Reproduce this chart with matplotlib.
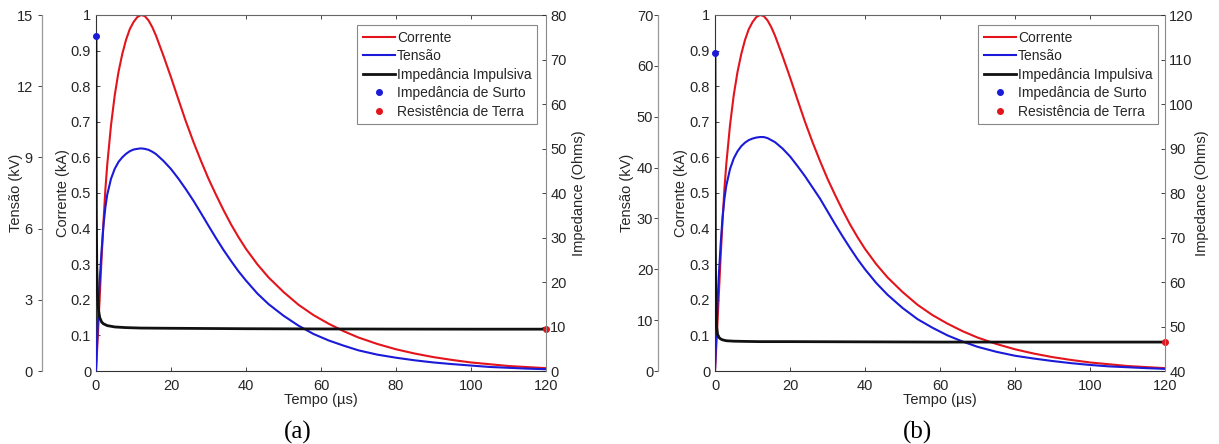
import matplotlib
matplotlib.use("Agg")
import matplotlib.pyplot as plt
from matplotlib.lines import Line2D

plt.rcParams['font.family'] = ['Liberation Sans', 'DejaVu Sans']

# ---------------- data ----------------
t = [0, 0.25, 0.5, 0.75, 1, 1.5, 2, 2.5, 3, 4, 5, 6, 7, 8, 9, 10, 11, 12, 13, 14,
     15, 16, 18, 20, 22, 24, 26, 28, 30, 32, 34, 36, 38, 40, 43, 46, 50, 54, 58,
     62, 66, 70, 75, 80, 85, 90, 95, 100, 105, 110, 115, 120]

# current (kA) - same impulse in both cases
cur_a = [0, 0.05, 0.10, 0.155, 0.21, 0.32, 0.42, 0.51, 0.58, 0.69, 0.775, 0.84,
         0.89, 0.93, 0.96, 0.98, 0.994, 1.0, 0.997, 0.985, 0.966, 0.942, 0.885,
         0.825, 0.762, 0.70, 0.643, 0.59, 0.54, 0.495, 0.452, 0.412, 0.376, 0.343,
         0.30, 0.263, 0.222, 0.186, 0.157, 0.133, 0.112, 0.094, 0.076, 0.061,
         0.049, 0.039, 0.031, 0.024, 0.019, 0.014, 0.011, 0.008]
cur_b = list(cur_a)

# voltage (kV)
volt_a = [0, 1.05, 2.1, 3.0, 3.83, 5.1, 6.15, 6.9, 7.43, 8.1, 8.52, 8.81, 9.0,
          9.15, 9.26, 9.33, 9.36, 9.38, 9.36, 9.32, 9.24, 9.14, 8.85, 8.51, 8.1,
          7.65, 7.17, 6.65, 6.12, 5.6, 5.1, 4.64, 4.2, 3.81, 3.27, 2.82, 2.33,
          1.91, 1.56, 1.29, 1.07, 0.87, 0.69, 0.56, 0.45, 0.36, 0.29, 0.23, 0.17,
          0.135, 0.1, 0.075]
volt_b = [0, 5.25, 10.15, 14.7, 18.55, 24.85, 30.1, 33.8, 36.4, 39.7, 41.8, 43.2,
          44.2, 44.9, 45.4, 45.7, 45.9, 46.0, 46.0, 45.8, 45.4, 45.0, 43.75, 42.2,
          40.3, 38.3, 36.1, 33.9, 31.4, 28.9, 26.5, 24.2, 22.0, 20.0, 17.3, 15.0,
          12.4, 10.2, 8.5, 7.0, 5.8, 4.76, 3.78, 3.0, 2.45, 1.96, 1.54, 1.19, 0.91,
          0.74, 0.56, 0.42]

# impulsive impedance (Ohms)
tz = [0, 0.05, 0.1, 0.2, 0.4, 0.7, 1, 1.5, 2, 3, 5, 8, 12, 20, 40, 60, 80, 100, 120]
z_a = [75.2, 50, 35, 24, 17, 13.5, 12, 11, 10.6, 10.2, 9.9, 9.75, 9.65, 9.6, 9.5,
       9.45, 9.42, 9.4, 9.4]
z_b = [111.5, 85, 68, 56, 50, 48.2, 47.6, 47.2, 47.0, 46.8, 46.7, 46.65, 46.6,
       46.6, 46.55, 46.5, 46.5, 46.5, 46.5]

surge_a = (0, 75.2)
ground_a = (120, 9.4)
surge_b = (0, 111.5)
ground_b = (120, 46.5)

v_lim_a, v_ticks_a = (0, 15), [0, 3, 6, 9, 12, 15]
v_lim_b, v_ticks_b = (0, 70), [0, 10, 20, 30, 40, 50, 60, 70]
z_lim_a, z_ticks_a = (0, 80), [0, 10, 20, 30, 40, 50, 60, 70, 80]
z_lim_b, z_ticks_b = (40, 120), [40, 50, 60, 70, 80, 90, 100, 110, 120]
c_ticks = [0, 0.1, 0.2, 0.3, 0.4, 0.5, 0.6, 0.7, 0.8, 0.9, 1]
c_ticklabels = ['0', '0.1', '0.2', '0.3', '0.4', '0.5', '0.6', '0.7', '0.8', '0.9', '1']
x_ticks = [0, 20, 40, 60, 80, 100, 120]

labels = ['Corrente', 'Tensão', 'Impedância Impulsiva', 'Impedância de Surto',
          'Resistência de Terra']

# ---------------- figure ----------------
W, H = 1219, 444
fig = plt.figure(figsize=(W / 100, H / 100), dpi=100)

FS = 10.5
TXT = '#262626'
RED = '#e3141c'
BLUE = '#1a1ad8'


def panel(left_px, outer_px, cur, volt, z, surge, ground, vlim, vticks, zlim,
          zticks, leg_right_px, tag, tag_x, lab_v, lab_c, lab_z, vpad):
    top_px, bot_px, width_px = 15, 371, 450
    ax = fig.add_axes([left_px / W, (H - bot_px) / H, width_px / W,
                       (bot_px - top_px) / H])
    ax.set_xlim(0, 120)
    ax.set_ylim(0, 1)
    ax.set_xticks(x_ticks)
    ax.set_yticks(c_ticks)
    ax.set_yticklabels(c_ticklabels)
    ax.tick_params(direction='in', length=3, width=0.6, labelsize=FS,
                   colors=TXT, top=True)
    ax.tick_params(axis='y', right=False, pad=3.5)
    ax.tick_params(axis='x', pad=6)
    for s in ['left', 'bottom']:
        ax.spines[s].set_color('#333333')
    ax.spines['top'].set_color('#666666')
    ax.spines['right'].set_visible(False)
    ax.set_xlabel('Tempo (µs)', fontsize=FS, color=TXT, labelpad=0)
    ax.set_ylabel('Corrente (kA)', fontsize=FS, color=TXT)
    ax.yaxis.set_label_coords((lab_c - left_px) / width_px, 0.5)
    ax.plot(t, cur, color=RED, lw=1.5)

    # voltage axis (outer left)
    axv = ax.twinx()
    axv.set_ylim(*vlim)
    axv.set_yticks(vticks)
    axv.yaxis.set_ticks_position('left')
    axv.yaxis.set_label_position('left')
    axv.spines['left'].set_position(('axes', (outer_px - left_px) / width_px))
    axv.spines['left'].set_color('#999999')
    axv.spines['left'].set_linewidth(0.9)
    for s in ['right', 'top', 'bottom']:
        axv.spines[s].set_visible(False)
    axv.tick_params(axis='y', direction='out', length=3, width=0.6,
                    labelsize=FS, colors=TXT, pad=vpad)
    axv.set_ylabel('Tensão (kV)', fontsize=FS, color=TXT)
    axv.yaxis.set_label_coords((lab_v - left_px) / width_px, 0.5)
    axv.plot(t, volt, color=BLUE, lw=1.5)

    # impedance axis (right)
    axz = ax.twinx()
    axz.set_ylim(*zlim)
    axz.set_yticks(zticks)
    for s in ['left', 'top', 'bottom']:
        axz.spines[s].set_visible(False)
    axz.spines['right'].set_color('#888888')
    axz.tick_params(axis='y', direction='in', length=3, width=0.6,
                    labelsize=FS, colors=TXT, pad=3)
    axz.set_ylabel('Impedance (Ohms)', fontsize=FS, color=TXT)
    axz.yaxis.set_label_coords((lab_z - left_px) / width_px, 0.5)
    axz.plot(tz, z, color='#111111', lw=2.0, solid_joinstyle='round')
    axz.plot([surge[0]], [surge[1]], 'o', color=BLUE, ms=4, clip_on=False)
    axz.plot([ground[0]], [ground[1]], 'o', color=RED, ms=4, clip_on=False)

    handles = [Line2D([], [], color=RED, lw=1.5),
               Line2D([], [], color=BLUE, lw=1.5),
               Line2D([], [], color='#111111', lw=2.0),
               Line2D([], [], color=BLUE, marker='o', ms=4, ls='none'),
               Line2D([], [], color=RED, marker='o', ms=4, ls='none')]
    leg = axz.legend(handles, labels, loc='upper right',
                     bbox_to_anchor=(leg_right_px / W, 1 - 25 / H),
                     bbox_transform=fig.transFigure, fontsize=10,
                     frameon=True, fancybox=False, borderaxespad=0,
                     handlelength=2.3, handletextpad=0.15, labelspacing=0.33,
                     borderpad=0.4, framealpha=1)
    leg.get_frame().set_edgecolor('#888888')
    leg.get_frame().set_linewidth(0.8)
    for txt in leg.get_texts():
        txt.set_color(TXT)

    fig.text(tag_x / W, 1 - 432 / H, tag, ha='center', va='center',
             fontsize=18, family='Liberation Serif', color='black')


panel(96, 42, cur_a, volt_a, z_a, surge_a, ground_a, v_lim_a, v_ticks_a,
      z_lim_a, z_ticks_a, 537, '(a)', 298, 23, 70, 572.5, 3.6)
panel(715, 658, cur_b, volt_b, z_b, surge_b, ground_b, v_lim_b, v_ticks_b,
      z_lim_b, z_ticks_b, 1158, '(b)', 917, 634, 688, 1195, 0.5)

fig.savefig('out.png', dpi=100)
